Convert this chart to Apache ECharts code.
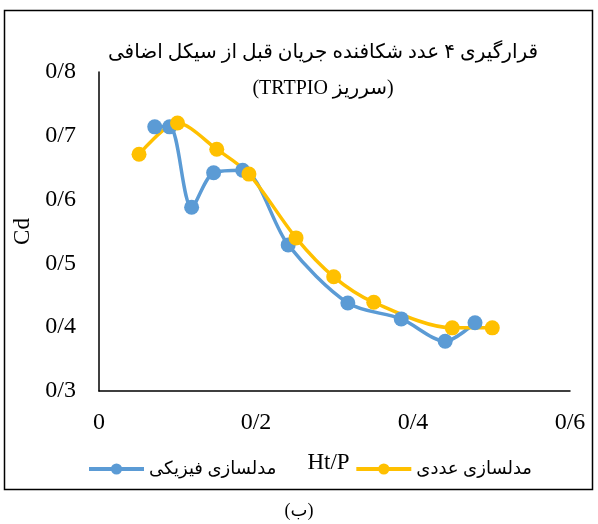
<!DOCTYPE html>
<html>
<head>
<meta charset="utf-8">
<script src="https://cdn.jsdelivr.net/npm/echarts@6/dist/echarts.min.js"></script>
<style>
  html, body { margin: 0; padding: 0; background: #fff; }
  #chart { width: 598px; height: 524px; }
</style>
</head>
<body>
<div id="chart"></div>
<script>
// physical model (blue)
const physX = [0.071, 0.090, 0.118, 0.146, 0.183, 0.241, 0.317, 0.385, 0.441, 0.479];
const physCd = [0.714, 0.714, 0.588, 0.642, 0.646, 0.529, 0.438, 0.413, 0.378, 0.407];
// numerical model (yellow)
const numX = [0.051, 0.100, 0.150, 0.191, 0.251, 0.299, 0.350, 0.450, 0.501];
const numCd = [0.671, 0.720, 0.679, 0.640, 0.540, 0.479, 0.439, 0.399, 0.399];

const seriesNames = ['مدلسازی فیزیکی', 'مدلسازی عددی'];
const titleLines = ['\u202Bقرارگیری ۴ عدد شکافنده جریان قبل از سیکل اضافی\u202C', '\u202B(سرریز TRTPIO)\u202C'];
const caption = '\u202B(ب)\u202C';

const serif = '"Liberation Serif", "DejaVu Sans", serif';
const fmt = v => (v === 0 ? '0' : v.toFixed(1).replace('.', '/'));

const chart = echarts.init(document.getElementById('chart'));

const option = {
  animation: false,
  title: {
    text: titleLines.join('\n'),
    left: 318,
    top: 30,
    textAlign: 'center',
    textStyle: {
      fontFamily: serif,
      fontSize: 20,
      fontWeight: 'normal',
      color: '#000',
      lineHeight: 36
    }
  },
  legend: {
    left: 87,
    top: 460,
    padding: 0,
    itemWidth: 55,
    itemHeight: 14,
    itemGap: 78,
    lineStyle: { width: 4 },
    textStyle: { fontFamily: serif, fontSize: 18, color: '#000' },
    data: seriesNames
  },
  grid: {
    left: 99,
    right: 28,
    top: 72,
    bottom: 133
  },
  xAxis: {
    type: 'value',
    min: 0,
    max: 0.6,
    interval: 0.2,
    name: 'Ht/P',
    nameLocation: 'middle',
    nameGap: 60,
    nameTextStyle: { fontFamily: serif, fontSize: 23, color: '#000', padding: [0, 12, 0, 0] },
    axisLine: { show: true, lineStyle: { color: '#000', width: 1.5 } },
    axisTick: { show: false },
    splitLine: { show: false },
    axisLabel: { formatter: fmt, fontFamily: serif, fontSize: 24, color: '#000', margin: 20 }
  },
  yAxis: {
    type: 'value',
    min: 0.3,
    max: 0.8,
    interval: 0.1,
    name: 'Cd',
    nameLocation: 'middle',
    nameGap: 62,
    nameTextStyle: { fontFamily: serif, fontSize: 23, color: '#000' },
    axisLine: { show: true, lineStyle: { color: '#000', width: 1.5 } },
    axisTick: { show: false },
    splitLine: { show: false },
    axisLabel: { formatter: fmt, fontFamily: serif, fontSize: 24, color: '#000', margin: 23 }
  },
  series: [
    {
      name: seriesNames[0],
      type: 'line',
      smooth: 0.3,
      symbol: 'circle',
      symbolSize: 15,
      lineStyle: { color: '#5B9BD5', width: 3.5 },
      itemStyle: { color: '#5B9BD5' },
      data: physX.map((x, i) => [x, physCd[i]])
    },
    {
      name: seriesNames[1],
      type: 'line',
      smooth: 0.3,
      symbol: 'circle',
      symbolSize: 15,
      lineStyle: { color: '#FFC000', width: 3.5 },
      itemStyle: { color: '#FFC000' },
      data: numX.map((x, i) => [x, numCd[i]])
    }
  ],
  graphic: [
    {
      type: 'rect',
      shape: { x: 4.5, y: 10.5, width: 588, height: 479 },
      style: { fill: null, stroke: '#000', lineWidth: 1.5 },
      silent: true
    },
    {
      type: 'text',
      left: 'center',
      top: 502,
      style: { text: caption, font: '18px ' + serif, fill: '#000' }
    }
  ]
};

chart.setOption(option);
</script>
</body>
</html>
